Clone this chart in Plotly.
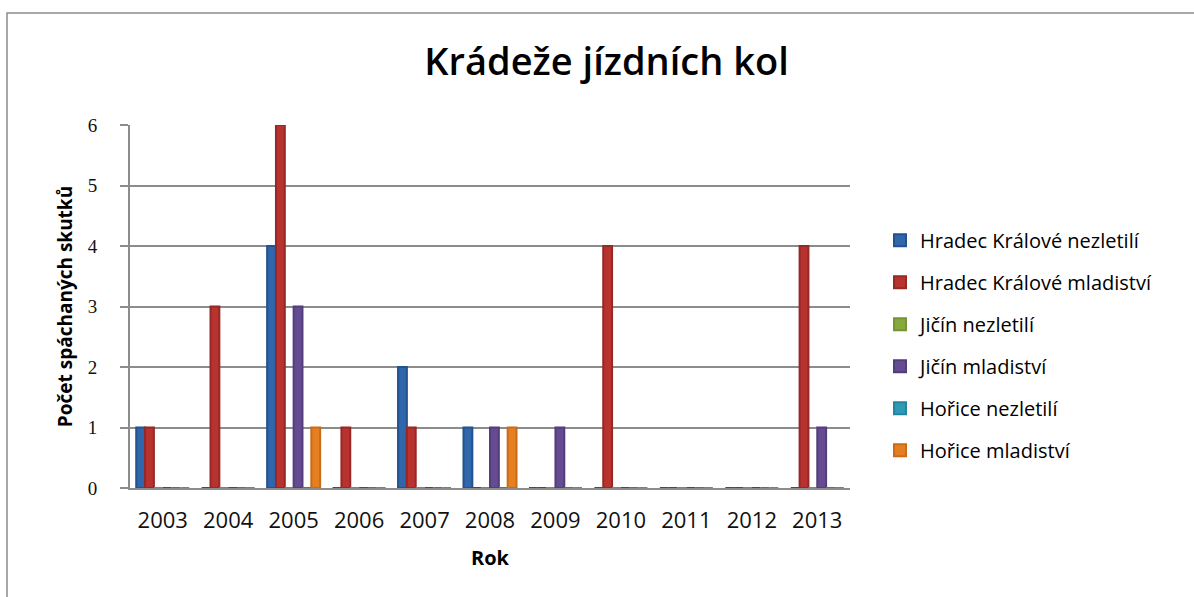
import plotly.graph_objects as go

years = ["2003", "2004", "2005", "2006", "2007", "2008", "2009", "2010", "2011", "2012", "2013"]
hk_nezletili = [1, 0, 4, 0, 2, 1, 0, 0, 0, 0, 0]
hk_mladistvi = [1, 3, 6, 1, 1, 0, 0, 4, 0, 0, 4]
jicin_nezletili = [0, 0, 0, 0, 0, 0, 0, 0, 0, 0, 0]
jicin_mladistvi = [0, 0, 3, 0, 0, 1, 1, 0, 0, 0, 1]
horice_nezletili = [0, 0, 0, 0, 0, 0, 0, 0, 0, 0, 0]
horice_mladistvi = [0, 0, 1, 0, 0, 1, 0, 0, 0, 0, 0]

series = [
    ("Hradec Králové nezletilí", hk_nezletili, "#2F66AC", "#24528E"),
    ("Hradec Králové mladiství", hk_mladistvi, "#B8322F", "#962825"),
    ("Jičín nezletilí", jicin_nezletili, "#86A83E", "#739535"),
    ("Jičín mladiství", jicin_mladistvi, "#654C92", "#533D7B"),
    ("Hořice nezletilí", horice_nezletili, "#2E9AB4", "#23869E"),
    ("Hořice mladiství", horice_mladistvi, "#E57F22", "#C86C18"),
]

FONT = "Open Sans"

fig = go.Figure()
for i, (name, vals, col, edge) in enumerate(series):
    fig.add_trace(go.Bar(
        x=years, y=vals, name=name,
        marker=dict(color=col, line=dict(color=edge, width=2)),
        legendgroup=f"g{i}",
    ))

fig.update_layout(
    width=1194, height=597,
    paper_bgcolor="white", plot_bgcolor="white",
    margin=dict(l=130, r=344, t=125, b=109),
    barmode="group", bargap=0.19, bargroupgap=0.0,
    title=dict(text="Krádeže jízdních kol", x=0.508, xanchor="center", y=0.896, yanchor="middle",
               font=dict(family=FONT, size=38, color="black", weight=600)),
    showlegend=True,
    legend=dict(x=1.0417, xanchor="left", y=0.736, yanchor="top",
                font=dict(family=FONT, size=20, color="black"),
                tracegroupgap=13, traceorder="grouped", itemwidth=30,
                bgcolor="rgba(0,0,0,0)"),
    xaxis=dict(
        title=dict(text="<b>Rok</b>", font=dict(family=FONT, size=20, color="black"), standoff=18),
        tickfont=dict(family=FONT, size=22, color="#111"),
        ticklabelstandoff=12,
        showline=True, linecolor="#8c8c8c", linewidth=2, ticks="", showgrid=False,
    ),
    yaxis=dict(
        title=dict(text="<b>Počet spáchaných skutků</b>", font=dict(family=FONT, size=19, color="black"), standoff=10),
        tickfont=dict(family="Liberation Serif", size=19, color="#111"),
        ticklabelstandoff=19,
        range=[0, 6], dtick=1, showgrid=True, gridcolor="#8c8c8c", gridwidth=2,
        showline=True, linecolor="#8c8c8c", linewidth=2,
        ticks="outside", ticklen=8, tickcolor="#8c8c8c", tickwidth=2,
        zeroline=False,
    ),
)

fig.add_shape(type="rect", xref="paper", yref="paper",
              x0=(7 - 130) / 720, x1=1.6, y0=-0.5, y1=(488 - 13) / 363,
              line=dict(color="#8c8c8c", width=1.5), fillcolor="rgba(0,0,0,0)", layer="below")

fig.write_html("out.html", config={"displayModeBar": False},
               post_script="document.body.style.margin='0';")
